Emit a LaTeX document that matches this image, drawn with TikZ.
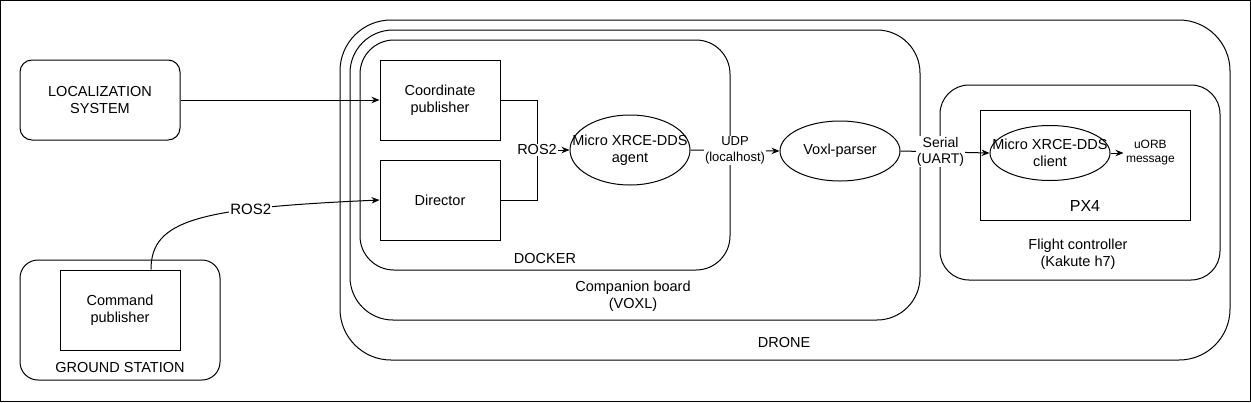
\documentclass[tikz,border=0pt]{standalone}
\usepackage{fontspec}
\setmainfont{Liberation Sans}
\usetikzlibrary{shapes.geometric}
\usetikzlibrary{arrows.meta}
\usetikzlibrary{positioning}
\tikzstyle{container} = [draw, rectangle, inner sep=0pt]
\tikzstyle{box} = [draw, rectangle, minimum width=120, minimum height=80]
\tikzstyle{blob} = [draw, ellipse, minimum width=120, inner sep=0pt]
\tikzstyle{lbl} = [fill=white, inner sep=1pt]
\newcommand{\fsmain}{\fontsize{14.5}{17}\selectfont}

\begin{document}
\begin{tikzpicture}[
  x=1pt, y=-1pt, line width=1pt,
  every node/.style={font=\fsmain, align=center, inner sep=2pt},
  >={Stealth[length=8pt,width=6.5pt]},
]
\useasboundingbox (0,0) rectangle (1251,402);
\draw (0.5,0.5) rectangle (1250.5,401.5);

% nested frames
\node[container, minimum width=890, minimum height=340, rounded corners=51] (drone) at (785,190) {};
\node[container, minimum width=570, minimum height=290, rounded corners=43] (comp) at (635,175) {};
\node[container, minimum width=370, minimum height=230, rounded corners=34] (docker) at (545,155) {};
\node[container, minimum width=280, minimum height=195, rounded corners=29] (fc) at (1080,182.5) {};
\node[container, minimum width=210, minimum height=110] (px4) at (1085,165) {};
\node[container, minimum width=200, minimum height=120, rounded corners=18] (ground) at (120,320) {};

\node (dronelbl) at (784,343) {DRONE};
\node (complbl) at (633,296) {Companion board\\(VOXL)};
\node (dockerlbl) at (545,259) {DOCKER};
\node (fclbl) at (1078,254) {Flight controller\\(Kakute h7)};
\node[font=\fontsize{16}{19}\selectfont] (px4lbl) at (1085,206) {PX4};
\node (groundlbl) at (120,368) {GROUND STATION};

% blocks
\node[draw, minimum width=160, minimum height=80, rounded corners=12] (loc) at (100,100) {LOCALIZATION\\SYSTEM};
\node[box] (cmd) at (120,310) {Command\\publisher};
\node[box] (coord) at (440,100) {Coordinate\\publisher};
\node[box] (dir) at (440,200) {Director};
\node[blob, minimum height=70, label={[name=agenttxt]center:Micro XRCE-DDS\\agent}] (agent) at (630,150) {};
\node[blob, minimum height=60] (voxl) at (840,151) {Voxl-parser};
\node[blob, minimum height=55, label={[name=clienttxt]center:Micro XRCE-DDS\\client}] (client) at (1050,153) {};
\node[font=\fontsize{12}{14}\selectfont, right=13 of client] (uorb) {uORB\\message};

% links
\draw[->] (loc) -- (coord);
\draw[->] ([xshift=31]cmd.north) .. controls +(0,-50) and +(-180,8) .. node[lbl, pos=0.7, font=\fontsize{15}{17}\selectfont] (roscurve) {ROS2} (dir.west);
\coordinate (rosjoin) at (537,150);
\draw (coord.east) -| (rosjoin);
\draw (dir.east) -| (rosjoin);
\draw[->] (rosjoin) -- node[lbl, pos=0] (roslbl) {ROS2} (agent.west);
\draw[->] (agent.east) -- node[lbl, font=\fontsize{13}{15.5}\selectfont] (udplbl) {UDP\\(localhost)} (voxl.west);
\draw[->] (voxl.east) -- node[lbl, pos=0.45, font=\fontsize{14}{16}\selectfont] (seriallbl) {Serial\\(UART)} (client.west);
\draw[->] (client) -- (uorb);

\end{tikzpicture}
\end{document}
